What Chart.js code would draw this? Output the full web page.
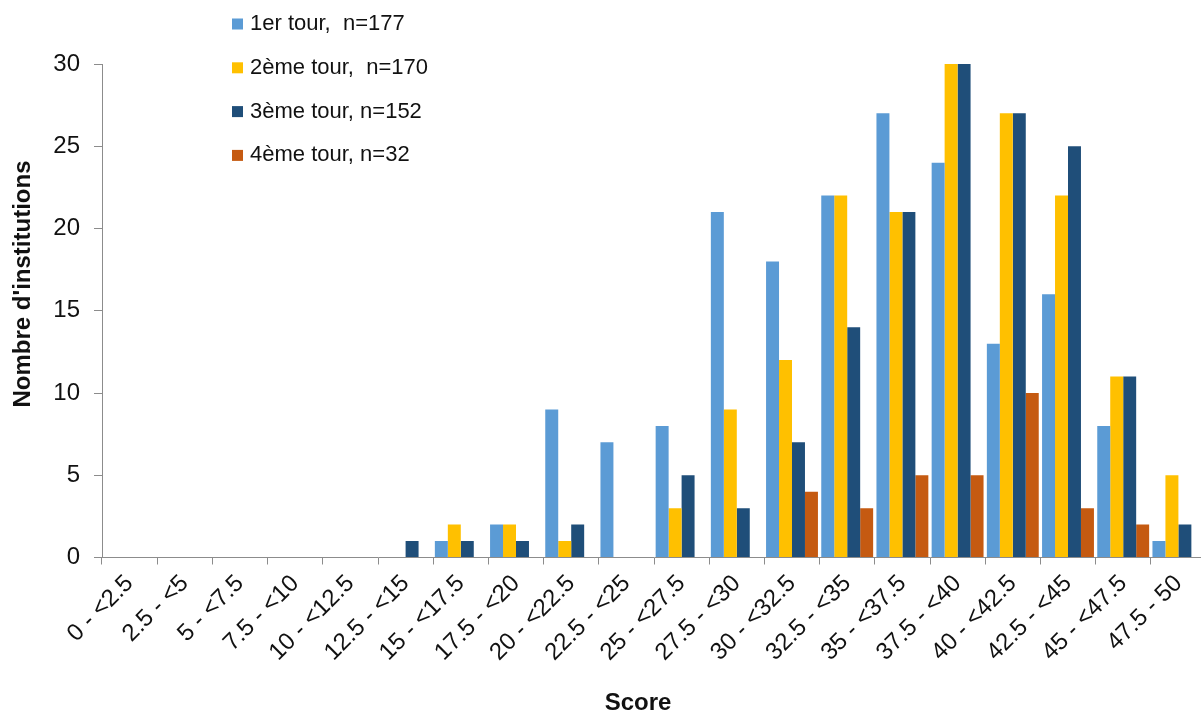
<!DOCTYPE html>
<html>
<head>
<meta charset="utf-8">
<script src="https://cdn.jsdelivr.net/npm/chart.js@4/dist/chart.umd.min.js"></script>
<style>
html, body { margin: 0; padding: 0; background: #fff; overflow: hidden; }
#wrap { width: 1206px; height: 716px; position: relative; }
</style>
</head>
<body>
<div id="wrap"><canvas id="scoreChart" width="1206" height="716"></canvas></div>
<script>
// score bins
const categories = [
"0 - <2.5", "2.5 - <5", "5 - <7.5", "7.5 - <10", "10 - <12.5",
"12.5 - <15", "15 - <17.5", "17.5 - <20", "20 - <22.5", "22.5 - <25",
"25 - <27.5", "27.5 - <30", "30 - <32.5", "32.5 - <35", "35 - <37.5",
"37.5 - <40", "40 - <42.5", "42.5 - <45", "45 - <47.5", "47.5 - 50"
];

const seriesLabels = [
"1er tour,  n=177",
"2ème tour,  n=170",
"3ème tour, n=152",
"4ème tour, n=32"
];

const tour1 = [0, 0, 0, 0, 0, 0, 1, 2, 9, 7, 8, 21, 18, 22, 27, 24, 13, 16, 8, 1];
const tour2 = [0, 0, 0, 0, 0, 0, 2, 2, 1, 0, 3, 9, 12, 22, 21, 30, 27, 22, 11, 5];
const tour3 = [0, 0, 0, 0, 0, 1, 1, 1, 2, 0, 5, 3, 7, 14, 21, 30, 27, 25, 11, 2];
const tour4 = [0, 0, 0, 0, 0, 0, 0, 0, 0, 0, 0, 0, 4, 3, 5, 5, 10, 3, 2, 0];

const colors = ["#5B9BD5", "#FFC000", "#1F4E79", "#C55A11"];

const yTitle = "Nombre d'institutions";
const xTitle = "Score";

const FONT = '"Liberation Sans", Arial, sans-serif';

// legend inside the plot + axis titles
const overlay = {
id: "overlay",
afterDraw(chart) {
const c = chart.ctx;
c.save();
c.textBaseline = "middle";
c.textAlign = "left";
c.font = "22px " + FONT;
chart.data.datasets.forEach((ds, i) => {
const y = 24 + i * 43.8;
c.fillStyle = ds.backgroundColor;
c.fillRect(232, y - 5.5, 11, 11);
c.fillStyle = "#111";
c.fillText(ds.label, 250, y);
});

c.font = "bold 24px " + FONT;
c.textAlign = "center";
c.fillText(xTitle, 638, 703);

c.translate(23, 284);
c.rotate(-Math.PI / 2);
c.fillText(yTitle, 0, 0);
c.restore();
}
};

const ctx = document.getElementById("scoreChart");

new Chart(ctx, {
type: "bar",
data: {
labels: categories,
datasets: [tour1, tour2, tour3, tour4].map((d, i) => ({
label: seriesLabels[i],
data: d,
backgroundColor: colors[i],
borderWidth: 0,
categoryPercentage: 0.94,
barPercentage: 1.0
}))
},
options: {
responsive: false,
animation: false,
layout: {
padding: { top: 64, right: 0, bottom: 0, left: 0 }
},
plugins: {
legend: { display: false },
tooltip: { enabled: false }
},
scales: {
x: {
grid: {
display: true,
drawOnChartArea: false,
drawTicks: true,
tickLength: 7,
color: "#8c8c8c",
offset: true
},
border: { color: "#8c8c8c", width: 1 },
ticks: {
autoSkip: false,
minRotation: 45,
maxRotation: 45,
padding: 5,
color: "#111",
font: { family: FONT, size: 24 }
},
afterFit(scale) { scale.height = 158.5; }
},
y: {
min: 0,
max: 30,
grid: {
display: true,
drawOnChartArea: false,
drawTicks: true,
tickLength: 8,
color: "#8c8c8c"
},
border: { color: "#8c8c8c", width: 1 },
ticks: {
stepSize: 5,
padding: 14,
color: "#111",
font: { family: FONT, size: 24 }
},
afterFit(scale) { scale.width = 102; }
}
}
},
plugins: [overlay]
});
</script>
</body>
</html>
